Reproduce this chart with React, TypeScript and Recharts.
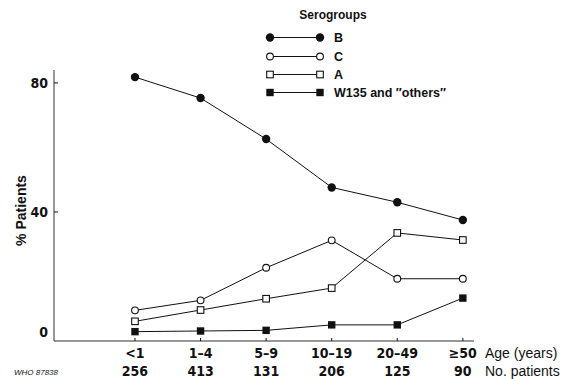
import React from "react";
import { LineChart, Line, XAxis, YAxis, Legend } from "recharts";

const ageGroups = ["<1", "1–4", "5–9", "10–19", "20–49", "≥50"];
const patientCounts = [256, 413, 131, 206, 125, 90];
const serogroupB = [81.8, 75.3, 62.6, 47.6, 43.0, 37.5];
const serogroupC = [9.5, 12.6, 22.7, 31.2, 19.3, 19.3];
const serogroupA = [6.1, 9.6, 13.1, 16.4, 33.5, 31.3];
const serogroupW = [2.9, 3.1, 3.3, 5.0, 5.0, 13.3];
const yTicks = [0, 40, 80];

const data = ageGroups.map((age, i) => ({
  x: i,
  age,
  n: patientCounts[i],
  B: serogroupB[i],
  C: serogroupC[i],
  A: serogroupA[i],
  W: serogroupW[i],
}));

const INK = "#111";
const numFont = "'Liberation Sans Narrow', 'DejaVu Sans Condensed', 'Liberation Sans', sans-serif";
const textFont = "'Liberation Sans', Arial, sans-serif";

type Shape = "dot" | "circle" | "square" | "block";

const series: { key: string; name: string; shape: Shape }[] = [
  { key: "B", name: "B", shape: "dot" },
  { key: "C", name: "C", shape: "circle" },
  { key: "A", name: "A", shape: "square" },
  { key: "W", name: "W135 and \u2033others\u2033", shape: "block" },
];

function Marker({ cx, cy, shape }: { cx: number; cy: number; shape: Shape }) {
  if (cx == null || cy == null) return null;
  switch (shape) {
    case "dot":
      return <circle cx={cx} cy={cy} r={4.2} fill={INK} />;
    case "circle":
      return <circle cx={cx} cy={cy} r={3.4} fill="#fff" stroke={INK} strokeWidth={1.1} />;
    case "square":
      return <rect x={cx - 3.3} y={cy - 3.3} width={6.6} height={6.6} fill="#fff" stroke={INK} strokeWidth={1.1} />;
    default:
      return <rect x={cx - 3.7} y={cy - 3.7} width={7.4} height={7.4} fill={INK} />;
  }
}

const makeDot = (shape: Shape) => (props: any) =>
  <Marker key={props.index} cx={props.cx} cy={props.cy} shape={shape} />;

function XTick(props: any) {
  const { x, y, payload } = props;
  const i = payload.value as number;
  return (
    <g>
      <line x1={x} y1={y} x2={x} y2={y - 3} stroke={INK} strokeWidth={1} />
      <text x={x} y={y + 17} textAnchor="middle" fontFamily={numFont} fontWeight="bold" fontSize={14} fill={INK}>
        {ageGroups[i]}
      </text>
      <text x={x} y={y + 35} textAnchor="middle" fontFamily={numFont} fontWeight="bold" fontSize={14} fill={INK}>
        {patientCounts[i]}
      </text>
    </g>
  );
}

function YTick(props: any) {
  const { x, y, payload } = props;
  const v = payload.value as number;
  return (
    <g>
      {v !== 0 && <line x1={x} y1={y} x2={x + 4} y2={y} stroke={INK} strokeWidth={1} />}
      <text
        x={x - 6}
        y={v === 0 ? y - 4 : y + 5}
        textAnchor="end"
        fontFamily={numFont}
        fontWeight="bold"
        fontSize={14}
        fill={INK}
      >
        {v}
      </text>
    </g>
  );
}

function LegendBox() {
  const rows = [37.5, 56.5, 74.5, 92.5];
  return (
    <svg width={240} height={100} style={{ display: "block" }}>
      <text x={73} y={19} textAnchor="middle" fontFamily={textFont} fontWeight="bold" fontSize={12} fill={INK}>
        Serogroups
      </text>
      {series.map((s, i) => (
        <g key={s.key}>
          <line x1={10} y1={rows[i]} x2={60} y2={rows[i]} stroke={INK} strokeWidth={1} />
          <Marker cx={10} cy={rows[i]} shape={s.shape} />
          <Marker cx={60} cy={rows[i]} shape={s.shape} />
          <text x={74} y={rows[i] + 4.5} fontFamily={textFont} fontWeight="bold" fontSize={12.5} fill={INK}>
            {s.name}
          </text>
        </g>
      ))}
    </svg>
  );
}

export default function App() {
  return (
    <div style={{ position: "absolute", left: 0, top: 0, width: 570, height: 379, background: "#fff" }}>
      <LineChart width={570} height={379} data={data} margin={{ top: 70, right: 96, left: 0, bottom: 0 }}>
        <XAxis
          type="number"
          dataKey="x"
          domain={[-1.235, 5.17]}
          ticks={[0, 1, 2, 3, 4, 5]}
          allowDataOverflow
          height={38}
          tickSize={0}
          tickMargin={0}
          tickLine={false}
          axisLine={{ stroke: "#333", strokeWidth: 1 }}
          tick={<XTick />}
          label={{
            content: (p: any) => {
              const vb = p.viewBox;
              const lx = vb.x + vb.width + 11;
              return (
                <g>
                  <text x={lx} y={vb.y + 17} fontFamily={textFont} fontSize={14} fill={INK}>
                    Age (years)
                  </text>
                  <text x={lx} y={vb.y + 35} fontFamily={textFont} fontSize={14} fill={INK}>
                    No. patients
                  </text>
                  <text x={14} y={vb.y + 34} fontFamily={textFont} fontStyle="italic" fontSize={8} fill={INK}>
                    WHO 87838
                  </text>
                </g>
              );
            },
          }}
        />
        <YAxis
          type="number"
          domain={[0, 84]}
          ticks={yTicks}
          width={54}
          tickSize={0}
          tickMargin={0}
          tickLine={false}
          axisLine={{ stroke: "#333", strokeWidth: 1 }}
          tick={<YTick />}
          label={{
            content: (p: any) => {
              const vb = p.viewBox;
              const cx = 21;
              const cy = vb.y + vb.height / 2 + 5;
              return (
                <text
                  x={cx}
                  y={cy}
                  transform={`rotate(-90 ${cx} ${cy})`}
                  textAnchor="middle"
                  dominantBaseline="central"
                  fontFamily={textFont}
                  fontWeight="bold"
                  fontSize={14}
                  fill={INK}
                >
                  % Patients
                </text>
              );
            },
          }}
        />
        <Legend
          layout="horizontal"
          align="center"
          verticalAlign="middle"
          wrapperStyle={{ position: "absolute", left: 260, top: 0, width: 240, height: 100 }}
          content={() => <LegendBox />}
        />
        {series.map((s) => (
          <Line
            key={s.key}
            dataKey={s.key}
            name={s.name}
            type="linear"
            stroke={INK}
            strokeWidth={1}
            dot={makeDot(s.shape)}
            activeDot={false}
            isAnimationActive={false}
          />
        ))}
      </LineChart>
    </div>
  );
}
